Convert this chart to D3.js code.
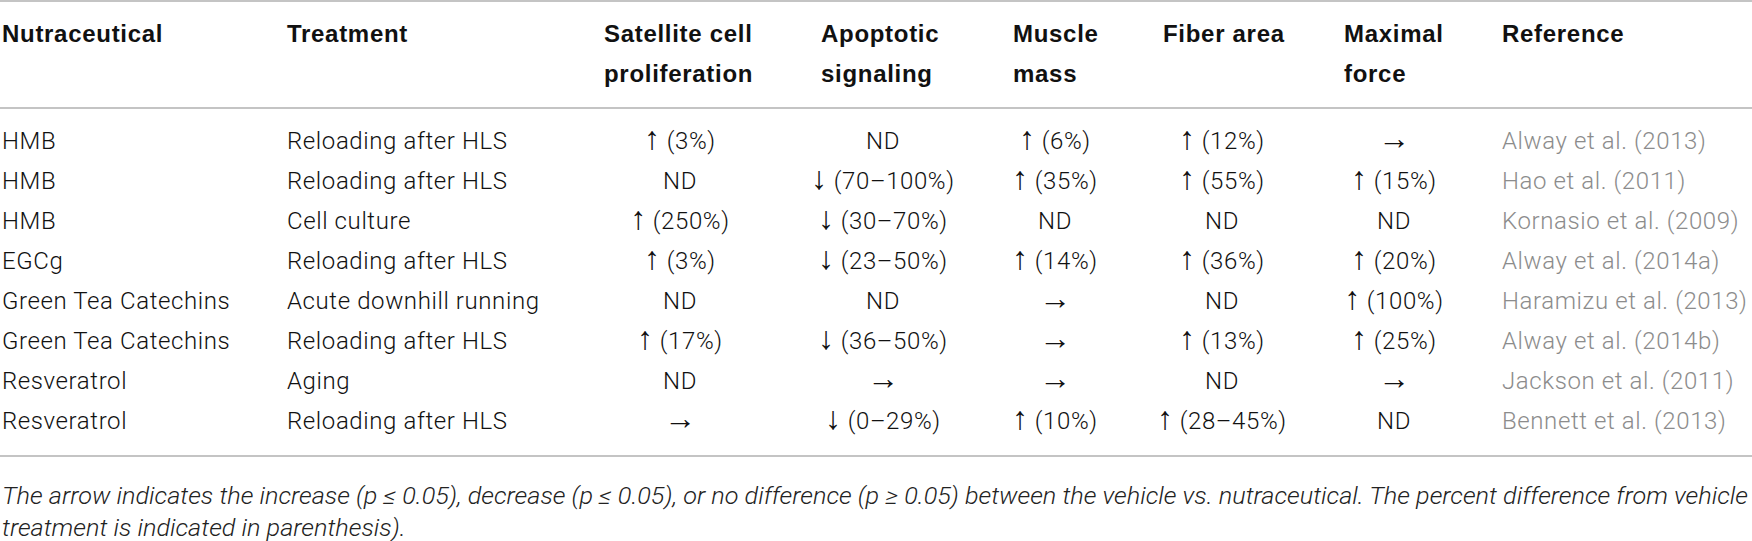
<!DOCTYPE html>
<html>
<head>
<meta charset="utf-8">
<script src="https://cdn.jsdelivr.net/npm/d3@7"></script>
<style>
  body { margin: 0; background: #fff; }
  svg { display: block; }
  .head { font-family: "Liberation Sans", Arial, sans-serif; font-weight: bold; font-size: 24px; letter-spacing: 0.7px; fill: #111; }
  .cell { font-family: Roboto, "Noto Sans", sans-serif; font-weight: 300; font-size: 24px; letter-spacing: 0.6px; fill: #111; }
  .cell .arrow { font-family: "Liberation Sans", Arial, sans-serif; font-weight: normal; font-size: 32px; letter-spacing: 0; }
  .ref { fill: #8c8c8c; }
  .note { font-family: Roboto, "Noto Sans", sans-serif; font-weight: 300; font-style: italic; font-size: 23px; fill: #222; }
  .rule { stroke: #c4c4c4; stroke-width: 2; }
</style>
</head>
<body>
<script>
// table content
var nutraceuticals = ["HMB", "HMB", "HMB", "EGCg", "Green Tea Catechins", "Green Tea Catechins", "Resveratrol", "Resveratrol"];
var treatments = ["Reloading after HLS", "Reloading after HLS", "Cell culture", "Reloading after HLS",
    "Acute downhill running", "Reloading after HLS", "Aging", "Reloading after HLS"];
var satellite = ["↑ (3%)", "ND", "↑ (250%)", "↑ (3%)", "ND", "↑ (17%)", "ND", "→"];
var apoptotic = ["ND", "↓ (70–100%)", "↓ (30–70%)", "↓ (23–50%)", "ND", "↓ (36–50%)", "→", "↓ (0–29%)"];
var muscleMass = ["↑ (6%)", "↑ (35%)", "ND", "↑ (14%)", "→", "→", "→", "↑ (10%)"];
var fiberArea = ["↑ (12%)", "↑ (55%)", "ND", "↑ (36%)", "ND", "↑ (13%)", "ND", "↑ (28–45%)"];
var maxForce = ["→", "↑ (15%)", "ND", "↑ (20%)", "↑ (100%)", "↑ (25%)", "→", "ND"];
var references = ["Alway et al. (2013)", "Hao et al. (2011)", "Kornasio et al. (2009)", "Alway et al. (2014a)",
    "Haramizu et al. (2013)", "Alway et al. (2014b)", "Jackson et al. (2011)", "Bennett et al. (2013)"];

var headers = [["Nutraceutical"], ["Treatment"], ["Satellite cell", "proliferation"], ["Apoptotic", "signaling"],
    ["Muscle", "mass"], ["Fiber area"], ["Maximal", "force"], ["Reference"]];

var footnote = [
    "The arrow indicates the increase (p ≤ 0.05), decrease (p ≤ 0.05), or no difference (p ≥ 0.05) between the vehicle vs. nutraceutical. The percent difference from vehicle",
    "treatment is indicated in parenthesis)."
];

var width = 1752, height = 541;

// column layout: header left edge, data anchor
var columns = [
    {values: nutraceuticals, left: 2, anchor: "start", x: 2},
    {values: treatments, left: 287, anchor: "start", x: 287},
    {values: satellite, left: 604, anchor: "middle", x: 680},
    {values: apoptotic, left: 821, anchor: "middle", x: 883},
    {values: muscleMass, left: 1013, anchor: "middle", x: 1055},
    {values: fiberArea, left: 1163, anchor: "middle", x: 1222},
    {values: maxForce, left: 1344, anchor: "middle", x: 1394},
    {values: references, left: 1502, anchor: "start", x: 1502, cls: "ref"}
];

var arrows = "↑↓→";

var get_y = d3.scalePoint()
    .domain(d3.range(nutraceuticals.length))
    .range([149, 429]);

var svg = d3.select("body").append("svg")
    .attr("width", width)
    .attr("height", height);

// rules
svg.selectAll(".rule")
    .data([1, 108, 456])
    .enter().append("line")
    .attr("class", "rule")
    .attr("x1", 0)
    .attr("x2", width)
    .attr("y1", function(d) { return d; })
    .attr("y2", function(d) { return d; });

// header
var head = svg.selectAll(".head")
    .data(headers)
    .enter().append("text")
    .attr("class", "head")
    .attr("x", function(d, i) { return columns[i].left; });

head.selectAll("tspan")
    .data(function(d) { return d; })
    .enter().append("tspan")
    .attr("x", function() { return d3.select(this.parentNode).attr("x"); })
    .attr("y", function(d, i) { return 42 + i * 40; })
    .text(function(d) { return d; });

// body cells, arrows set larger in a font that has the glyphs
columns.forEach(function(col) {
    var cell = svg.append("g")
        .selectAll("text")
        .data(col.values)
        .enter().append("text")
        .attr("class", "cell" + (col.cls ? " " + col.cls : ""))
        .attr("x", col.x)
        .attr("y", function(d, i) { return get_y(i); })
        .attr("text-anchor", col.anchor);

    cell.each(function(d) {
        var t = d3.select(this);
        if (arrows.indexOf(d.charAt(0)) >= 0) {
            t.append("tspan").attr("class", "arrow").text(d.charAt(0));
            if (d.length > 1) t.append("tspan").text(d.slice(1));
        } else {
            t.text(d);
        }
    });
});

// footnote, squeezed to the table width like the condensed italic of the original
var notes = svg.selectAll(".note")
    .data(footnote)
    .enter().append("text")
    .attr("class", "note")
    .attr("x", 2)
    .attr("y", function(d, i) { return 504 + i * 32; })
    .text(function(d) { return d; });

var natural = notes.nodes()[0].getComputedTextLength();
var squeeze = 1746 / natural;
notes.each(function() {
    var len = this.getComputedTextLength() * squeeze;
    d3.select(this).attr("textLength", len).attr("lengthAdjust", "spacingAndGlyphs");
});
</script>
</body>
</html>
